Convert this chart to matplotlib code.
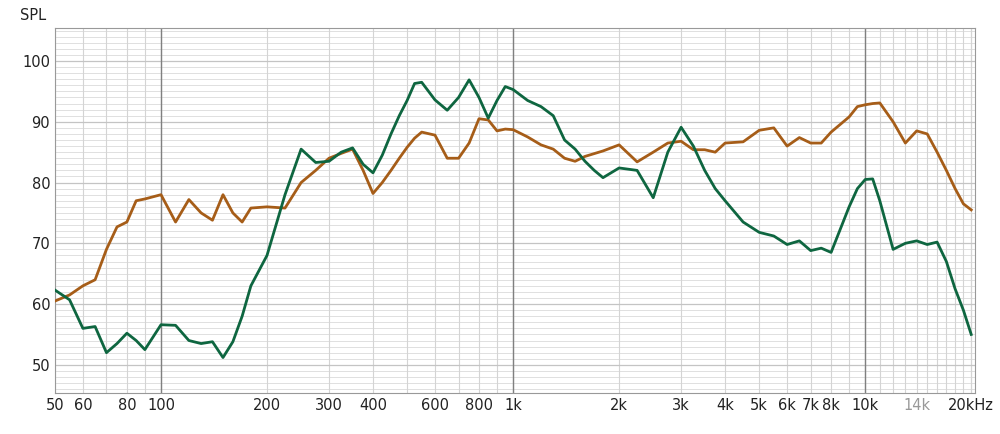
import matplotlib
matplotlib.use("Agg")
import matplotlib.pyplot as plt
from matplotlib.ticker import FixedLocator, NullFormatter

freq_g = [50,55,60,65,70,75,80,85,90,100,110,120,130,140,150,160,170,180,200,225,250,275,300,325,350,375,400,425,450,475,500,525,550,600,650,700,750,800,850,900,950,1000,1100,1200,1300,1400,1500,1600,1700,1800,2000,2250,2500,2750,3000,3250,3500,3750,4000,4500,5000,5500,6000,6500,7000,7500,8000,9000,9500,10000,10500,11000,12000,13000,14000,15000,16000,17000,18000,19000,20000]
spl_g = [62.3,60.7,56,56.3,52,53.5,55.2,54,52.5,56.6,56.5,54,53.5,53.8,51.2,53.8,58,63,68,78,85.5,83.3,83.5,85,85.7,83,81.6,84.5,88,91,93.5,96.3,96.5,93.6,91.9,94,96.9,94,90.6,93.5,95.8,95.3,93.5,92.5,91,87,85.5,83.5,82,80.8,82.4,82,77.5,85,89.1,86,82,79,77,73.5,71.8,71.2,69.8,70.4,68.8,69.2,68.5,76,79,80.5,80.6,77,69,70,70.4,69.8,70.2,67,62.5,59,55]
freq_b = [50,55,60,65,70,75,80,85,90,100,110,120,130,140,150,160,170,180,200,225,250,275,300,325,350,375,400,425,450,475,500,525,550,600,650,700,750,800,850,900,950,1000,1100,1200,1300,1400,1500,1600,1800,2000,2250,2500,2750,3000,3250,3500,3750,4000,4500,5000,5500,6000,6500,7000,7500,8000,9000,9500,10000,10500,11000,12000,13000,14000,15000,16000,17000,18000,19000,20000]
spl_b = [60.5,61.5,63,64,69,72.7,73.5,77,77.3,78,73.5,77.2,75,73.8,78,75,73.5,75.8,76,75.8,80,82,84,84.8,85.5,82,78.2,80,82,84,85.8,87.3,88.3,87.8,84,84,86.5,90.5,90.3,88.5,88.8,88.7,87.5,86.2,85.5,84,83.5,84.3,85.2,86.2,83.4,85,86.5,86.8,85.4,85.4,85,86.5,86.7,88.6,89,86,87.4,86.5,86.5,88.3,90.8,92.5,92.8,93,93.1,90,86.5,88.5,88,85,82,79,76.5,75.5]

x_ticks = [50,60,80,100,200,300,400,600,800,1000,2000,3000,4000,5000,6000,7000,8000,10000,14000,20000]
x_labels = ["50","60","80","100","200","300","400","600","800","1k","2k","3k","4k","5k","6k","7k","8k","10k","14k","20kHz"]
y_ticks = [50,60,70,80,90,100]

fig = plt.figure(figsize=(10,4.34), dpi=100)
ax = fig.add_axes([0.055, 0.095, 0.92, 0.84])
ax.set_xscale("log")
ax.set_xlim(50, 20500)
ax.set_ylim(45.4, 105.4)

minors = []
for dec in (10,100,1000,10000):
    for m in range(1,10):
        v = m*dec
        if 50 <= v <= 20500:
            minors.append(v)
for v in range(11000,20001,1000):
    minors.append(v)
for v in range(46,106):
    ax.axhline(v, color="#e0e0e0", lw=0.7, zorder=0)
for v in minors:
    ax.axvline(v, color="#d4d4d4", lw=0.8, zorder=0.5)
for v in y_ticks:
    ax.axhline(v, color="#c4c4c4", lw=0.9, zorder=0.6)
for v in (100,1000,10000):
    ax.axvline(v, color="#808080", lw=1.0, zorder=1)

ax.plot(freq_b, spl_b, color="#a65d18", lw=2, zorder=3, solid_joinstyle="round")
ax.plot(freq_g, spl_g, color="#0e6640", lw=2, zorder=4, solid_joinstyle="round")

ax.xaxis.set_major_locator(FixedLocator(x_ticks))
ax.set_xticklabels(x_labels)
ax.xaxis.set_minor_formatter(NullFormatter())
ax.xaxis.set_minor_locator(FixedLocator([]))
ax.set_yticks(y_ticks)
ax.tick_params(length=0, labelsize=10.5, colors="#222222")
for lbl in ax.get_xticklabels():
    if lbl.get_text() == "14k":
        lbl.set_color("#999999")
for s in ax.spines.values():
    s.set_color("#999999")
fig.text(0.02, 0.955, "SPL", fontsize=10.5, color="#222222")
fig.savefig("out.png")
